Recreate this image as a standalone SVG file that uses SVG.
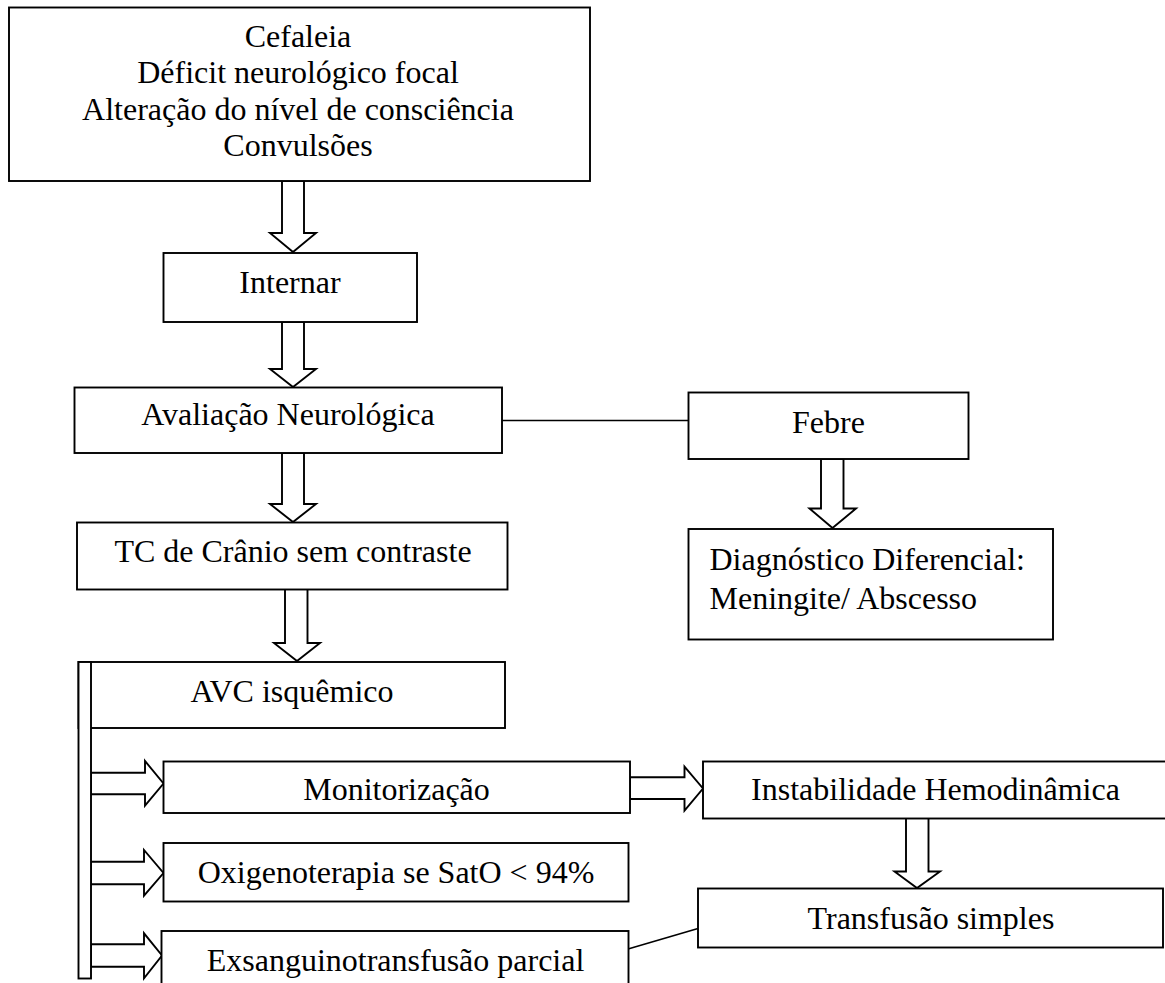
<svg xmlns="http://www.w3.org/2000/svg" width="1165" height="983" viewBox="0 0 1165 983">
  <style>
    .box { fill: #ffffff; stroke: #000000; stroke-width: 1.9; }
    .arrow { fill: #ffffff; stroke: #000000; stroke-width: 1.9; stroke-linejoin: miter; }
    .line { fill: none; stroke: #000000; stroke-width: 1.6; }
    .t { font-family: "Liberation Serif", "Times New Roman", serif; font-size: 32px; fill: #000000; }
    .c { text-anchor: middle; }
  </style>
  <rect x="0" y="0" width="1165" height="983" fill="#ffffff"/>

  <!-- connectors: plain lines and hollow block arrows -->
  <g id="connectors">
    <line class="line" x1="502" y1="420.5" x2="688" y2="420.5"/>
    <line class="line" x1="628" y1="949" x2="698" y2="928.5"/>
    <!-- vertical block arrows -->
    <polygon class="arrow" points="282,181 304,181 304,233 316,233 293,252 270,233 282,233"/>
    <polygon class="arrow" points="282,322 304,322 304,369 316,369 293,387 270,369 282,369"/>
    <polygon class="arrow" points="282,453 304,453 304,504 316,504 293,522 270,504 282,504"/>
    <polygon class="arrow" points="285,589 307.5,589 307.5,643 320,643 297,661 274,643 285,643"/>
    <polygon class="arrow" points="821,459 843.5,459 843.5,508.5 856,508.5 832.5,528 809.5,508.5 821,508.5"/>
    <polygon class="arrow" points="906,818 928.5,818 928.5,871.5 940,871.5 917,888 894.5,871.5 906,871.5"/>
    <!-- horizontal block arrows -->
    <polygon class="arrow" points="91,772.7 145,772.7 145,761 163.5,783.5 145,805.7 145,794.3 91,794.3"/>
    <polygon class="arrow" points="91,861.7 144,861.7 144,850 163.5,873 144,895.7 144,884.3 91,884.3"/>
    <polygon class="arrow" points="91,944.3 144,944.3 144,933.3 162,955.5 144,978.3 144,966.7 91,966.7"/>
    <polygon class="arrow" points="630,777.3 684.5,777.3 684.5,766.7 703,788.5 684.5,810.7 684.5,799 630,799"/>
  </g>

  <g id="sintomas">
    <rect class="box" x="9" y="7.5" width="581" height="173.5"/>
    <text class="t c" x="298" y="46.5">Cefaleia</text>
    <text class="t c" x="298" y="83">Déficit neurológico focal</text>
    <text class="t c" x="298" y="119.5">Alteração do nível de consciência</text>
    <text class="t c" x="298" y="156">Convulsões</text>
  </g>

  <g id="internar">
    <rect class="box" x="163.5" y="253" width="253.5" height="69"/>
    <text class="t c" x="290" y="293">Internar</text>
  </g>

  <g id="avaliacao">
    <rect class="box" x="74.5" y="387.5" width="427.5" height="65.5"/>
    <text class="t c" x="288" y="425">Avaliação Neurológica</text>
  </g>

  <g id="febre">
    <rect class="box" x="688.5" y="392.5" width="280" height="66.5"/>
    <text class="t c" x="828.5" y="432.5">Febre</text>
  </g>

  <g id="diagnostico">
    <rect class="box" x="688.5" y="529" width="364.5" height="110.5"/>
    <text class="t" x="709.5" y="569.5">Diagnóstico Diferencial:</text>
    <text class="t" x="709.5" y="608.5">Meningite/ Abscesso</text>
  </g>

  <g id="tc">
    <rect class="box" x="77" y="522.5" width="430.5" height="67"/>
    <text class="t c" x="293" y="561.5">TC de Crânio sem contraste</text>
  </g>

  <g id="avc">
    <rect class="box" x="78.5" y="662" width="426.5" height="66"/>
    <rect class="box" x="78.5" y="662" width="12.5" height="316.5"/>
    <text class="t c" x="292" y="701.5">AVC isquêmico</text>
  </g>

  <g id="monitorizacao">
    <rect class="box" x="163.5" y="761.5" width="466.5" height="51.5"/>
    <text class="t c" x="396.5" y="800">Monitorização</text>
  </g>

  <g id="instabilidade">
    <rect class="box" x="703" y="761.5" width="465" height="57"/>
    <text class="t c" x="935.5" y="800">Instabilidade Hemodinâmica</text>
  </g>

  <g id="oxigenoterapia">
    <rect class="box" x="163.5" y="843" width="465" height="58.5"/>
    <text class="t c" x="396" y="882.5">Oxigenoterapia se SatO &lt; 94%</text>
  </g>

  <g id="transfusao">
    <rect class="box" x="698" y="888.5" width="465" height="59"/>
    <text class="t c" x="931" y="928.5">Transfusão simples</text>
  </g>

  <g id="exsanguinotransfusao">
    <rect class="box" x="161.5" y="931" width="467" height="60"/>
    <text class="t c" x="395.5" y="971">Exsanguinotransfusão parcial</text>
  </g>
</svg>
